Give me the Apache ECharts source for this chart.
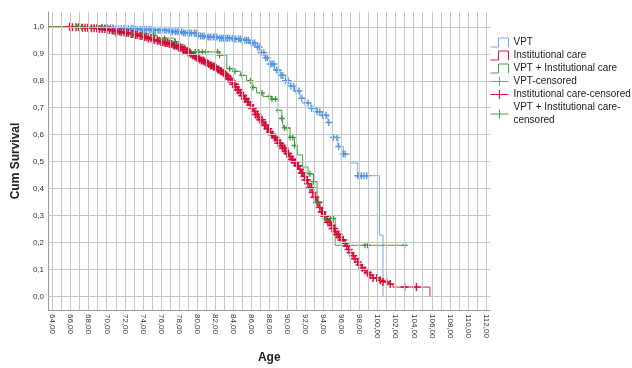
<!DOCTYPE html>
<html><head><meta charset="utf-8">
<script src="https://cdn.jsdelivr.net/npm/echarts@6/dist/echarts.min.js"></script>
<style>html,body{margin:0;padding:0;background:#fff}#c{width:632px;height:368px}</style>
</head><body><div id="c"></div>
<script>
// ---- axis ticks ----
const xMin = 63.55, xMax = 112.45, yMin = -0.05, yMax = 1.055;
const xGrid = [64,65,66,67,68,69,70,71,72,73,74,75,76,77,78,79,80,81,82,83,84,85,86,87,88,89,90,91,92,93,94,95,96,97,98,99,100,101,102,103,104,105,106,107,108,109,110,111,112];
const xLabels = [64,66,68,70,72,74,76,78,80,82,84,86,88,90,92,94,96,98,100,102,104,106,108,110,112];
const yTicks = [0,0.1,0.2,0.3,0.4,0.5,0.6,0.7,0.8,0.9,1.0];

// ---- series names ----
const names = ['VPT','Institutional care','VPT + Institutional care','VPT-censored','Institutional care-censored','VPT + Institutional care-censored'];

// ---- survival step curves [age, cumulative survival] ----
const vptCurve = [[63.55,1.0],[69,0.997],[71,0.993],[73,0.99],[75,0.987],[77,0.982],[78.5,0.977],[80,0.966],[81,0.962],[82.5,0.958],[84,0.955],[85,0.95],[85.8,0.94],[86.5,0.925],[87,0.905],[87.5,0.885],[88,0.862],[88.6,0.84],[89.2,0.82],[89.8,0.8],[90.3,0.78],[90.8,0.762],[91.4,0.735],[92,0.718],[92.6,0.698],[93.3,0.685],[93.9,0.672],[94.5,0.645],[95,0.59],[95.6,0.556],[96.2,0.528],[97,0.495],[97.8,0.448],[100.2,0.228],[100.6,0.0]];
const instCurve = [[63.55,1.0],[66,0.998],[67,0.997],[68,0.995],[69,0.992],[70,0.988],[70.5,0.986],[71,0.983],[71.5,0.98],[72,0.977],[72.5,0.973],[73,0.97],[73.5,0.966],[74,0.962],[74.5,0.957],[75,0.952],[75.5,0.948],
  [76,0.944],[76.25,0.942],[76.5,0.94],[76.75,0.938],[77,0.936],[77.25,0.933],[77.5,0.93],[77.75,0.926],[78,0.922],[78.25,0.918],[78.5,0.914],[78.75,0.91],[79,0.905],[79.25,0.9],[79.5,0.895],[79.75,0.889],
  [80,0.884],[80.25,0.879],[80.5,0.875],[80.75,0.871],[81,0.867],[81.25,0.862],[81.5,0.857],[81.75,0.853],[82,0.848],[82.25,0.842],[82.5,0.836],[82.75,0.83],[83,0.823],[83.25,0.815],[83.5,0.807],[83.75,0.797],
  [84,0.787],[84.25,0.777],[84.5,0.767],[84.75,0.756],[85,0.745],[85.25,0.733],[85.5,0.722],[85.75,0.71],[86,0.698],[86.25,0.686],[86.5,0.675],[86.75,0.665],[87,0.655],[87.25,0.645],[87.5,0.635],[87.75,0.622],
  [88,0.61],[88.25,0.6],[88.5,0.59],[88.75,0.579],[89,0.568],[89.25,0.559],[89.5,0.55],[89.75,0.54],[90,0.53],[90.25,0.519],[90.5,0.508],[90.75,0.497],[91,0.485],[91.25,0.472],[91.5,0.458],[91.75,0.445],
  [92,0.432],[92.25,0.418],[92.5,0.403],[92.75,0.386],[93,0.368],[93.25,0.349],[93.5,0.33],[93.75,0.313],[94,0.298],[94.25,0.286],[94.5,0.275],[94.75,0.263],[95,0.252],[95.25,0.241],[95.5,0.23],[95.75,0.22],
  [96,0.21],[96.25,0.198],[96.5,0.186],[96.75,0.174],[97,0.162],[97.25,0.151],[97.5,0.14],[97.75,0.128],[98,0.117],[98.25,0.107],[98.5,0.097],[98.75,0.088],[99,0.08],[99.4,0.069],[100.2,0.06],[100.6,0.055],[101.2,0.046],[101.7,0.035],[105.8,0.0]];
const bothCurve = [[63.55,1.0],[70.2,0.985],[70.7,0.975],[74.5,0.968],[75.6,0.958],[77.5,0.945],[78.1,0.935],[78.6,0.92],[79.2,0.907],[82.5,0.895],[83.3,0.845],[84,0.835],[84.8,0.82],[85.5,0.8],[86.1,0.775],[86.6,0.755],[87.3,0.742],[88.2,0.732],[89.0,0.69],[89.4,0.66],[89.6,0.625],[90.3,0.59],[90.8,0.56],[91.1,0.525],[91.7,0.48],[92.3,0.455],[92.9,0.426],[93.3,0.35],[94.0,0.29],[95.3,0.19],[103.0,0.19]];

// ---- censored ages ----
const vptCensor = [69.0,69.4,69.8,70.1,70.4,70.7,71.0,71.3,71.6,71.9,72.1,72.4,72.7,72.9,73.2,73.4,73.7,73.9,74.2,74.4,74.7,74.9,75.2,75.4,75.7,75.9,76.1,76.4,76.6,76.9,77.1,77.3,77.6,77.8,78.0,78.3,78.5,78.7,79.0,79.2,79.4,79.7,79.9,80.1,80.4,80.6,80.8,81.1,81.3,81.5,81.8,82.0,82.2,82.5,82.7,82.9,83.2,83.4,83.6,83.9,84.1,84.3,84.6,84.8,85.0,85.3,85.5,85.7,86.0,86.2,86.4,86.7,86.9,87.1,87.4,87.6,87.8,88.1,88.3,88.5,88.8,89.0,89.3,89.5,89.8,90.1,90.4,90.7,91.0,91.3,91.6,92.0,92.3,92.7,93.0,93.3,93.6,93.9,94.3,94.6,95.1,95.5,95.7,96.2,96.4,97.8,98.0,98.2,98.5,98.8];
const instCensor = [65.9,66.2,66.6,66.9,67.3,67.6,67.9,68.3,68.6,68.9,69.2,69.5,69.8,70.0,70.3,70.6,70.8,71.1,71.4,71.6,71.9,72.2,72.4,72.7,72.9,73.2,73.4,73.7,73.9,74.2,74.4,74.6,74.9,75.1,75.3,75.6,75.8,76.0,76.2,76.4,76.5,76.7,76.9,77.0,77.2,77.4,77.5,77.7,77.9,78.0,78.2,78.4,78.5,78.7,78.9,79.0,79.2,79.3,79.5,79.7,79.8,80.0,80.2,80.3,80.5,80.7,80.8,81.0,81.1,81.3,81.5,81.6,81.8,81.9,82.1,82.3,82.4,82.6,82.7,82.9,83.1,83.2,83.4,83.5,83.7,83.9,84.0,84.2,84.3,84.5,84.6,84.8,85.0,85.1,85.3,85.4,85.6,85.7,85.9,86.1,86.2,86.4,86.5,86.7,86.8,87.0,87.2,87.3,87.5,87.6,87.8,87.9,88.1,88.3,88.4,88.6,88.7,88.9,89.0,89.2,89.4,89.5,89.7,89.8,90.0,90.1,90.3,90.5,90.6,90.8,90.9,91.1,91.2,91.4,91.6,91.7,91.9,92.0,92.2,92.3,92.5,92.7,92.8,93.0,93.1,93.3,93.4,93.6,93.8,93.9,94.1,94.2,94.4,94.5,94.7,94.9,95.0,95.2,95.3,95.5,95.7,95.8,96.0,96.2,96.4,96.6,96.8,97.0,97.3,97.5,97.8,98.0,98.3,98.6,98.9,99.2,99.5,99.9,100.3,100.6,101.0,101.4,103.0,104.3];
const bothCensor = [66.7,67.2,69.5,71.0,72.8,74.0,75.2,76.4,77.6,79.8,80.2,80.6,81.0,82.3,82.5,83.6,84.2,85.0,85.9,86.2,87.2,88.0,88.3,88.7,89.0,89.4,89.7,90.0,90.3,90.6,90.8,92.5,92.9,93.4,94.2,94.8,95.1,98.6,98.9,103.0];

const colors = {
  vptLine:'#70a8ec', vptMark:'#4f95e3',
  instLine:'#e0173f', instMark:'#d90a37',
  bothLine:'#45a045', bothMark:'#2f962f'
};
const FONT = '"Liberation Sans", Arial, sans-serif';
const plus6 = 'path://M0,2.35H6V3.65H0Z M2.35,0H3.65V6H2.35Z';
const plus7 = 'path://M0,2.8H7V4.2H0Z M2.8,0H4.2V7H2.8Z';
const plus8 = 'path://M0,3.25H8V4.75H0Z M3.25,0H4.75V8H3.25Z';
const legendPlus = 'path://M0,4H18V5H0Z M8.5,0H9.5V9H8.5Z';
const legendStep = 'path://M0,9L8,9L8,0L18,0L18,9';

function survivalAt(curve, age) {
  let s = curve[0][1];
  for (const p of curve) { if (p[0] <= age) s = p[1]; else break; }
  return s;
}
const censorPoints = (curve, ages) => ages.map(a => [a, survivalAt(curve, a)]);

function stepSeries(name, data, color) {
  return { name, type:'line', step:'end', data, showSymbol:false, symbol:'none',
    lineStyle:{color, width:1}, itemStyle:{color}, z:3, silent:true };
}
function censorSeries(name, data, color, symbol, size) {
  return { name, type:'scatter', data, symbol, symbolSize:size,
    itemStyle:{color, opacity:0.95}, z:4, silent:true };
}

const gridLines = [];
xGrid.forEach(v => gridLines.push({xAxis:v}));
yTicks.forEach(v => gridLines.push({yAxis:v}));

const chart = echarts.init(document.getElementById('c'), null, {renderer:'canvas'});
chart.setOption({
  animation:false,
  backgroundColor:'#fff',
  grid:{left:48.5, right:142, top:12, bottom:58, containLabel:false, outerBoundsMode:'none'},
  xAxis:{
    type:'value', min:xMin, max:xMax,
    name:'Age', nameLocation:'middle', nameGap:42,
    nameTextStyle:{fontFamily:FONT, fontSize:12, fontWeight:'bold', color:'#222'},
    axisLine:{show:true, onZero:false, lineStyle:{color:'#9a9a9a', width:1}},
    axisTick:{show:false},
    splitLine:{show:false},
    axisLabel:{customValues:xLabels, rotate:-90, margin:4, fontFamily:FONT, fontSize:8, color:'#333',
      formatter:v => Number(v).toFixed(2).replace('.', ',')}
  },
  yAxis:{
    type:'value', min:yMin, max:yMax,
    name:'Cum Survival', nameLocation:'middle', nameGap:23, nameRotate:90,
    nameTextStyle:{fontFamily:FONT, fontSize:12, fontWeight:'bold', color:'#222'},
    axisLine:{show:true, onZero:false, lineStyle:{color:'#9a9a9a', width:1}},
    axisTick:{show:false},
    splitLine:{show:false},
    axisLabel:{customValues:yTicks, margin:4.5, fontFamily:FONT, fontSize:8, color:'#333',
      formatter:v => Number(v).toFixed(1).replace('.', ',')}
  },
  legend:{
    orient:'vertical', left:490, top:36, padding:0, itemWidth:18, itemHeight:9, itemGap:0,
    symbolKeepAspect:false, selectedMode:false,
    textStyle:{fontFamily:FONT, fontSize:10, color:'#222', lineHeight:13},
    formatter:n => n === names[5] ? 'VPT + Institutional care-\ncensored' : n,
    data:[
      {name:names[0], icon:legendStep, itemStyle:{color:'transparent', borderColor:colors.vptLine, borderWidth:1}},
      {name:names[1], icon:legendStep, itemStyle:{color:'transparent', borderColor:colors.instLine, borderWidth:1}},
      {name:names[2], icon:legendStep, itemStyle:{color:'transparent', borderColor:colors.bothLine, borderWidth:1}},
      {name:names[3], icon:legendPlus, itemStyle:{color:colors.vptMark, borderColor:colors.vptMark, borderWidth:0}},
      {name:names[4], icon:legendPlus, itemStyle:{color:colors.instMark, borderColor:colors.instMark, borderWidth:0}},
      {name:names[5], icon:legendPlus, itemStyle:{color:'#35a035', borderColor:'#35a035', borderWidth:0}}
    ]
  },
  series:[
    { name:'grid', type:'line', data:[[xMin,yMin]], symbol:'none', lineStyle:{opacity:0}, z:1, silent:true,
      markLine:{ silent:true, symbol:['none','none'], label:{show:false}, animation:false,
        lineStyle:{color:'#c6c6c6', width:1, type:'solid'}, emphasis:{disabled:true}, data:gridLines } },
    stepSeries(names[0], vptCurve, colors.vptLine),
    stepSeries(names[1], instCurve, colors.instLine),
    stepSeries(names[2], bothCurve, colors.bothLine),
    censorSeries(names[3], censorPoints(vptCurve, vptCensor), colors.vptMark, plus7, 7),
    censorSeries(names[4], censorPoints(instCurve, instCensor), colors.instMark, plus8, 8),
    censorSeries(names[5], censorPoints(bothCurve, bothCensor), colors.bothMark, plus6, 6)
  ]
});
</script></body></html>
